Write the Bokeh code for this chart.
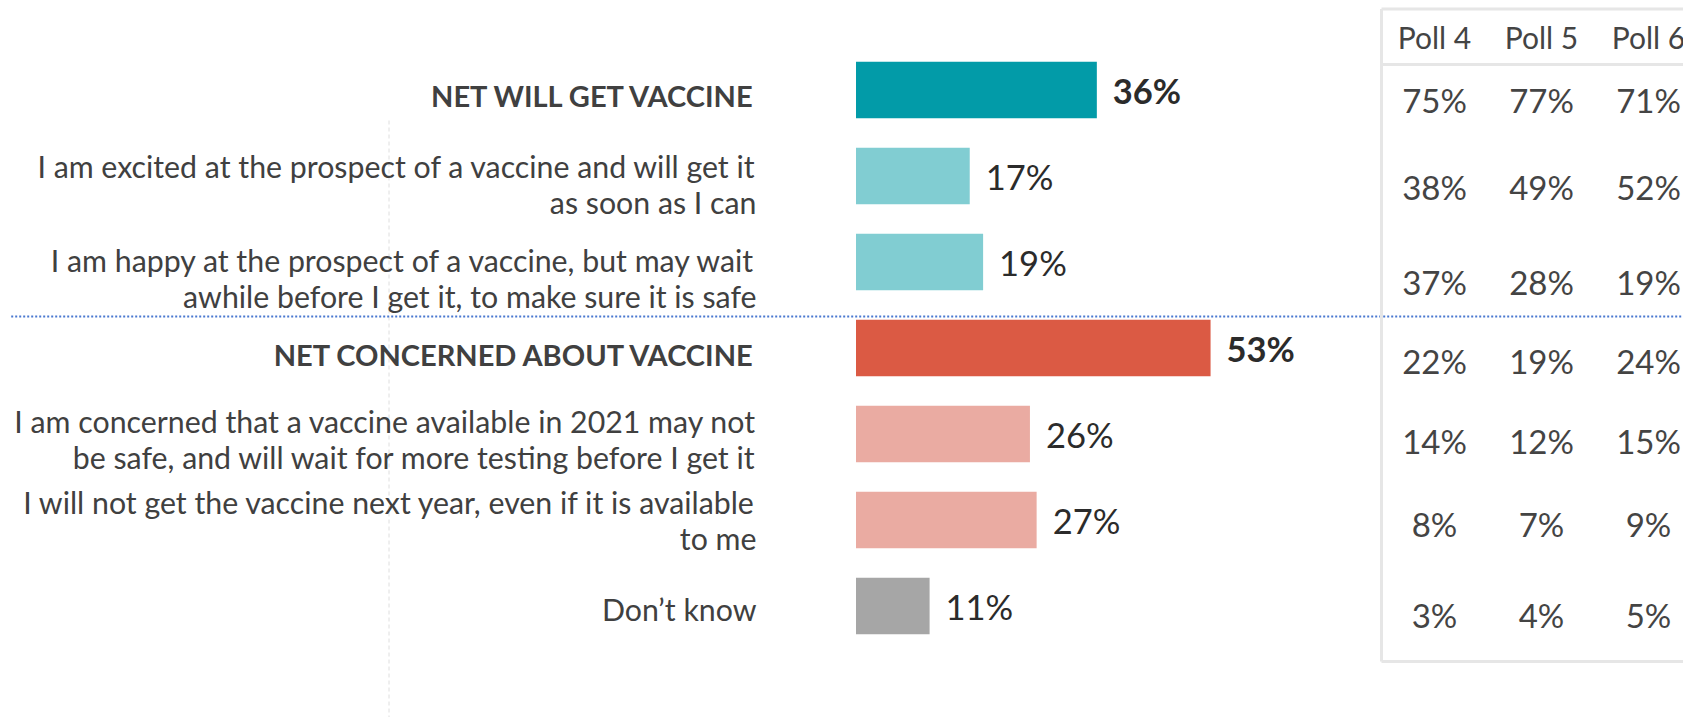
from bokeh.plotting import figure
from bokeh.models import Range1d, ColumnDataSource
from bokeh.embed import file_html
from bokeh.resources import INLINE
from bokeh.core.properties import value

# ---------------- data ----------------
categories = [
    "NET WILL GET VACCINE",
    "I am excited at the prospect of a vaccine and will get it\nas soon as I can",
    "I am happy at the prospect of a vaccine, but may wait\nawhile before I get it, to make sure it is safe",
    "NET CONCERNED ABOUT VACCINE",
    "I am concerned that a vaccine available in 2021 may not\nbe safe, and will wait for more testing before I get it",
    "I will not get the vaccine next year, even if it is available\nto me",
    "Don\u2019t know",
]
current = [36, 17, 19, 53, 26, 27, 11]
is_net = [True, False, False, True, False, False, False]
poll_names = ["Poll 4", "Poll 5", "Poll 6"]
poll4 = [75, 38, 37, 22, 14, 8, 3]
poll5 = [77, 49, 28, 19, 12, 7, 4]
poll6 = [71, 52, 19, 24, 15, 9, 5]

# ---------------- styles / layout ----------------
bar_colors = ["#029ba8", "#81cdd2", "#81cdd2", "#db5a44", "#eaaba2", "#eaaba2", "#a6a6a6"]
W, H = 1683, 717
PX_PER_PCT = 6.69
X0_PX = 855.5
ROW0_PX = 89.5
ROW_STEP = 86.0
BAR_H_PX = 56.5
FONT = "Lato"
LABEL_RIGHT_PX = 756.0
LABEL_SIZE = "30.3px"
LABEL_SIZE_BOLD = "29px"
VALUE_SIZE = "34.5px"
LINE_SPACING_PX = 36.0
label_dy = [5.5, 7.5, 15.5, 6.5, 4.5, 0.0, 3.0]
table_dy = [9.5, 10.5, 19.5, 12.5, 6.5, 3.5, 8.5]
TABLE_COLS_PX = [1434, 1541, 1648]
TABLE_HEADER_PX = 36.7
TABLE_LEFT_PX = 1381
TABLE_TOP_PX = 8.6
TABLE_BOTTOM_PX = 661
TABLE_HEAD_LINE_PX = 64
SEP_Y_PX = 316
VLINE_X_PX = 388.5


def px_x(px):
    return (px - X0_PX) / PX_PER_PCT


def px_y(px):
    return (px - ROW0_PX) / ROW_STEP


rows = list(range(len(categories)))

p = figure(width=W, height=H, output_backend="svg", toolbar_location=None,
           x_range=Range1d(px_x(0), px_x(W)), y_range=Range1d(px_y(H), px_y(0)),
           min_border=0, outline_line_color=None)
p.xaxis.visible = False
p.yaxis.visible = False
p.grid.visible = False
p.background_fill_color = "white"
p.border_fill_color = "white"

# faint vertical dashed guide
p.segment(x0=[px_x(VLINE_X_PX)], y0=[px_y(120)], x1=[px_x(VLINE_X_PX)], y1=[px_y(H)],
          line_color="#dedede", line_width=1, line_dash="4 3")

# bars
bar_src = ColumnDataSource(dict(y=rows, right=current, color=bar_colors))
p.hbar(y="y", left=0, right="right", height=BAR_H_PX / ROW_STEP, fill_color="color",
       line_color=None, source=bar_src)

# value labels
for bold in (True, False):
    idx = [i for i in rows if is_net[i] == bold]
    src = ColumnDataSource(dict(x=[current[i] for i in idx], y=[i for i in idx],
                                t=[f"{current[i]}%" for i in idx]))
    p.text(x="x", y="y", text="t", source=src, x_offset=16, text_baseline="middle",
           text_align="left", text_font=value(FONT), text_font_size=VALUE_SIZE,
           text_font_style="bold" if bold else "normal", text_color="#2b2b2b")

# category labels (right-aligned, possibly two lines)
for bold in (True, False):
    xs, ys, ts = [], [], []
    for i in rows:
        if is_net[i] != bold:
            continue
        lines = categories[i].split("\n")
        n = len(lines)
        for j, line in enumerate(lines):
            ypx = ROW0_PX + i * ROW_STEP + label_dy[i] + (j - (n - 1) / 2) * LINE_SPACING_PX
            xs.append(px_x(LABEL_RIGHT_PX))
            ys.append(px_y(ypx))
            ts.append(line)
    src = ColumnDataSource(dict(x=xs, y=ys, t=ts))
    p.text(x="x", y="y", text="t", source=src, text_align="right", text_baseline="middle",
           text_font=value(FONT), text_font_size=LABEL_SIZE_BOLD if bold else LABEL_SIZE,
           text_font_style="bold" if bold else "normal", text_color="#404040")

# separator dotted line
p.segment(x0=[px_x(10.7)], y0=[px_y(SEP_Y_PX)], x1=[px_x(W + 5)], y1=[px_y(SEP_Y_PX)],
          line_color="#4a78d0", line_width=2, line_dash="2 2")

# table frame
frame_color = "#e6e6e6"
p.segment(x0=[px_x(TABLE_LEFT_PX)] * 4,
          y0=[px_y(TABLE_TOP_PX), px_y(TABLE_HEAD_LINE_PX), px_y(TABLE_BOTTOM_PX), px_y(TABLE_TOP_PX)],
          x1=[px_x(W + 10)] * 3 + [px_x(TABLE_LEFT_PX)],
          y1=[px_y(TABLE_TOP_PX), px_y(TABLE_HEAD_LINE_PX), px_y(TABLE_BOTTOM_PX), px_y(TABLE_BOTTOM_PX)],
          line_color=frame_color, line_width=3)

# table header
p.text(x=[px_x(c) for c in TABLE_COLS_PX], y=[px_y(TABLE_HEADER_PX)] * 3, text=poll_names,
       text_align="center", text_baseline="middle", text_font=value(FONT),
       text_font_size="30px", text_color="#444444")

# table values
polls = [poll4, poll5, poll6]
tx, ty, tt = [], [], []
for c, vals in enumerate(polls):
    for i in rows:
        tx.append(px_x(TABLE_COLS_PX[c]))
        ty.append(i + table_dy[i] / ROW_STEP)
        tt.append(f"{vals[i]}%")
p.text(x=tx, y=ty, text=tt, text_align="center", text_baseline="middle",
       text_font=value(FONT), text_font_size="33px", text_color="#444444")

open("out.html", "w").write(file_html(p, INLINE))
